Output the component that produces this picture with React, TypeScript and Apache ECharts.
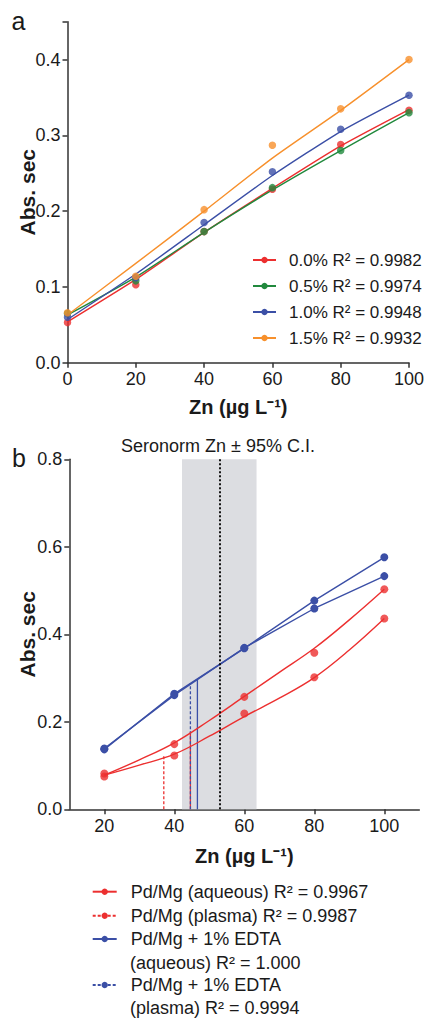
import React, { useEffect, useRef } from 'react';
import * as echarts from 'echarts';

const FONT = '"Liberation Sans", Arial, Helvetica, sans-serif';
const AXIS_COLOR = '#333333';
const TEXT_COLOR = '#1a1a1a';

// ---------- Panel a ----------
const concA = [0, 20, 40, 60, 80, 100];
const xTicksA = [0, 20, 40, 60, 80, 100];
const yTicksA = [0, 0.1, 0.2, 0.3, 0.4];
const yTickMarksA = [0, 0.1, 0.2, 0.3, 0.4, 0.45];
const namesA = ['0.0% R² = 0.9982', '0.5% R² = 0.9974', '1.0% R² = 0.9948', '1.5% R² = 0.9932'];
const colorsA = ['#ec2f2f', '#21893d', '#3b4fa6', '#f7902c'];
const pointsA00 = [0.053, 0.103, 0.173, 0.229, 0.288, 0.333];
const pointsA05 = [0.065, 0.108, 0.173, 0.231, 0.28, 0.33];
const pointsA10 = [0.06, 0.112, 0.185, 0.252, 0.308, 0.353];
const pointsA15 = [0.066, 0.114, 0.202, 0.287, 0.335, 0.4];
const fitA00 = [0.054, 0.11, 0.172, 0.23, 0.286, 0.334];
const fitA05 = [0.063, 0.113, 0.172, 0.228, 0.28, 0.33];
const fitA10 = [0.057, 0.117, 0.182, 0.247, 0.305, 0.353];
const fitA15 = [0.063, 0.131, 0.2, 0.27, 0.333, 0.4];

// ---------- Panel b ----------
const concB = [20, 40, 60, 80, 100];
const fitConcB = [20, 30, 40, 50, 60, 70, 80, 90, 100];
const xTicksB = [20, 40, 60, 80, 100];
const yTicksB = [0, 0.2, 0.4, 0.6, 0.8];
const namesB = [
  'Pd/Mg (aqueous) R² = 0.9967',
  'Pd/Mg (plasma) R² = 0.9987',
  'Pd/Mg + 1% EDTA (aqueous) R² = 1.000',
  'Pd/Mg + 1% EDTA (plasma) R² = 0.9994',
];
const legendLine1B = ['Pd/Mg (aqueous) R² = 0.9967', 'Pd/Mg (plasma) R² = 0.9987', 'Pd/Mg + 1% EDTA', 'Pd/Mg + 1% EDTA'];
const legendLine2B = ['', '', '(aqueous) R² = 1.000', '(plasma) R² = 0.9994'];
const RED = '#ec2f2f';
const BLUE = '#3b4fa6';
const pointsRedAq = [0.082, 0.149, 0.257, 0.358, 0.503];
const pointsRedPl = [0.075, 0.123, 0.219, 0.302, 0.436];
const fitRedAq = [0.078, 0.113, 0.152, 0.203, 0.258, 0.313, 0.368, 0.433, 0.503];
const fitRedPl = [0.078, 0.101, 0.126, 0.167, 0.212, 0.254, 0.301, 0.364, 0.436];
const pointsBlueAq = [0.137, 0.264, 0.368, 0.477, 0.576];
const pointsBluePl = [0.139, 0.261, 0.369, 0.459, 0.533];
const dropX = [44.6, 37.0, 46.6, 44.6];
const dropY = [0.177, 0.121, 0.297, 0.288];
const seronormZn = 53.0;
const seronormCI = [42.2, 63.5];

const pairs = (xs: number[], ys: number[]) => xs.map((x, i) => [x, ys[i]]);

export default function App() {
  const ref = useRef<HTMLDivElement>(null);

  useEffect(() => {
    if (!ref.current) return;
    const chart = echarts.init(ref.current, undefined, { renderer: 'svg' });

    const axisLine = { show: true, onZero: false, lineStyle: { color: AXIS_COLOR, width: 1.5 } };
    const axisTick = (vals: number[]) => ({
      show: true,
      length: 5,
      inside: false,
      customValues: vals,
      lineStyle: { color: AXIS_COLOR, width: 1.5 },
    });
    const label = (vals: number[], margin: number, fmt?: (v: number) => string) => ({
      show: true,
      customValues: vals,
      fontSize: 18,
      fontFamily: FONT,
      color: TEXT_COLOR,
      margin,
      formatter: fmt,
    });
    const nameStyleX = { fontSize: 20, fontWeight: 'bold', fontFamily: FONT, color: TEXT_COLOR };
    const nameStyleY = { fontSize: 21, fontWeight: 'bold', fontFamily: FONT, color: TEXT_COLOR };
    const fmt1 = (v: number) => v.toFixed(1);

    const seriesA: any[] = [];
    const fitsA = [fitA00, fitA05, fitA10, fitA15];
    const ptsA = [pointsA00, pointsA05, pointsA10, pointsA15];
    namesA.forEach((n, i) => {
      seriesA.push({
        type: 'line',
        name: n,
        xAxisIndex: 0,
        yAxisIndex: 0,
        data: pairs(concA, fitsA[i]),
        smooth: 0.2,
        symbol: 'circle',
        showSymbol: false,
        lineStyle: { color: colorsA[i], width: 1.4 },
        itemStyle: { color: colorsA[i] },
        z: 3,
      });
    });
    namesA.forEach((n, i) => {
      seriesA.push({
        type: 'scatter',
        name: n + ' points',
        xAxisIndex: 0,
        yAxisIndex: 0,
        data: pairs(concA, ptsA[i]),
        symbol: 'circle',
        symbolSize: 7.5,
        itemStyle: { color: colorsA[i] },
        z: 4,
      });
    });

    const seriesB: any[] = [
      {
        type: 'line',
        name: 'seronorm band',
        xAxisIndex: 1,
        yAxisIndex: 1,
        data: [],
        z: 0,
        silent: true,
        markArea: {
          silent: true,
          itemStyle: { color: '#dcdde1' },
          data: [[{ xAxis: seronormCI[0], yAxis: 0 }, { xAxis: seronormCI[1], yAxis: 0.8 }]],
        },
        markLine: {
          silent: true,
          symbol: 'none',
          label: { show: false },
          lineStyle: { color: '#000', width: 1.8, type: [2, 2] },
          data: [[{ coord: [seronormZn, 0] }, { coord: [seronormZn, 0.8] }]],
        },
      },
      {
        type: 'line',
        name: namesB[0],
        xAxisIndex: 1,
        yAxisIndex: 1,
        data: pairs(fitConcB, fitRedAq),
        smooth: 0.4,
        symbol: 'circle',
        showSymbol: false,
        lineStyle: { color: RED, width: 1.4 },
        itemStyle: { color: RED },
        z: 3,
      },
      {
        type: 'line',
        name: namesB[1],
        xAxisIndex: 1,
        yAxisIndex: 1,
        data: pairs(fitConcB, fitRedPl),
        smooth: 0.4,
        symbol: 'circle',
        showSymbol: false,
        lineStyle: { color: RED, width: 1.4 },
        itemStyle: { color: RED },
        z: 3,
      },
      {
        type: 'line',
        name: namesB[2],
        xAxisIndex: 1,
        yAxisIndex: 1,
        data: pairs(concB, pointsBlueAq),
        symbol: 'circle',
        symbolSize: 8,
        showSymbol: true,
        lineStyle: { color: BLUE, width: 1.4 },
        itemStyle: { color: BLUE },
        z: 4,
      },
      {
        type: 'line',
        name: namesB[3],
        xAxisIndex: 1,
        yAxisIndex: 1,
        data: pairs(concB, pointsBluePl),
        symbol: 'circle',
        symbolSize: 8,
        showSymbol: true,
        lineStyle: { color: BLUE, width: 1.4 },
        itemStyle: { color: BLUE },
        z: 4,
      },
      {
        type: 'scatter',
        name: 'red aqueous points',
        xAxisIndex: 1,
        yAxisIndex: 1,
        data: pairs(concB, pointsRedAq),
        symbolSize: 8,
        itemStyle: { color: RED },
        z: 4,
      },
      {
        type: 'scatter',
        name: 'red plasma points',
        xAxisIndex: 1,
        yAxisIndex: 1,
        data: pairs(concB, pointsRedPl),
        symbolSize: 8,
        itemStyle: { color: RED },
        z: 4,
      },
    ];
    const dropColors = [RED, RED, BLUE, BLUE];
    const dropDash: any[] = ['solid', [3, 2], 'solid', [3, 2]];
    dropX.forEach((dx, i) => {
      seriesB.push({
        type: 'line',
        name: 'drop ' + i,
        xAxisIndex: 1,
        yAxisIndex: 1,
        data: [[dx, 0], [dx, dropY[i]]],
        symbol: 'none',
        silent: true,
        lineStyle: { color: dropColors[i], width: 1.3, type: dropDash[i] },
        z: i === 0 ? 2 : 2.5,
      });
    });

    const legendTopsB = [891.7, 915.7, 939, 985];
    const legendB = namesB.map((n, i) => ({
      show: true,
      orient: 'vertical',
      left: 91.7,
      top: legendTopsB[i] - 9,
      padding: 0,
      itemWidth: 24,
      itemHeight: 8,
      selectedMode: false,
      formatter: () => legendLine1B[i],
      data: [i % 2 === 1 ? { name: n, lineStyle: { type: [3, 2] } } : { name: n }],
      textStyle: {
        fontSize: 18,
        lineHeight: 18,
        fontFamily: FONT,
        color: TEXT_COLOR,
        padding: [0, 0, 0, 9],
      },
    }));

    const graphicTexts: any[] = [
      { t: 'a', x: 18.5, y: 20.5, size: 25 },
      { t: 'b', x: 19, y: 458, size: 25 },
      { t: 'Seronorm Zn ± 95% C.I.', x: 218, y: 446, size: 18 },
      { t: legendLine2B[2], x: 130, y: 962.7, size: 18, left: true },
      { t: legendLine2B[3], x: 130, y: 1008.3, size: 18, left: true },
    ].map((g) => ({
      type: 'text',
      x: g.x,
      y: g.y,
      silent: true,
      style: {
        text: g.t,
        fontSize: g.size,
        fontFamily: FONT,
        fill: TEXT_COLOR,
        align: g.left ? 'left' : 'center',
        verticalAlign: 'middle',
      },
    }));

    chart.setOption({
      animation: false,
      backgroundColor: '#ffffff',
      textStyle: { fontFamily: FONT },
      grid: [
        { left: 67.5, top: 21.7, width: 341.5, height: 341, outerBoundsMode: 'none', containLabel: false },
        { left: 69.3, top: 459.3, width: 350, height: 350, outerBoundsMode: 'none', containLabel: false },
      ],
      xAxis: [
        {
          type: 'value',
          gridIndex: 0,
          min: 0,
          max: 100,
          interval: 20,
          axisLine,
          axisTick: axisTick(xTicksA),
          axisLabel: label(xTicksA, 7),
          splitLine: { show: false },
          name: 'Zn (µg L⁻¹)',
          nameLocation: 'middle',
          nameGap: 34,
          nameMoveOverlap: false,
          nameTextStyle: nameStyleX,
        },
        {
          type: 'value',
          gridIndex: 1,
          min: 10,
          max: 110,
          interval: 10,
          axisLine,
          axisTick: axisTick(xTicksB),
          axisLabel: label(xTicksB, 8),
          splitLine: { show: false },
          name: 'Zn (µg L⁻¹)',
          nameLocation: 'middle',
          nameGap: 37,
          nameMoveOverlap: false,
          nameTextStyle: nameStyleX,
        },
      ],
      yAxis: [
        {
          type: 'value',
          gridIndex: 0,
          min: 0,
          max: 0.45,
          axisLine,
          axisTick: axisTick(yTickMarksA),
          axisLabel: label(yTicksA, 7, fmt1),
          splitLine: { show: false },
          name: 'Abs. sec',
          nameLocation: 'middle',
          nameRotate: 90,
          nameGap: 30,
          nameMoveOverlap: false,
          nameTextStyle: nameStyleY,
        },
        {
          type: 'value',
          gridIndex: 1,
          min: 0,
          max: 0.8,
          interval: 0.2,
          axisLine,
          axisTick: axisTick(yTicksB),
          axisLabel: label(yTicksB, 7, fmt1),
          splitLine: { show: false },
          name: 'Abs. sec',
          nameLocation: 'middle',
          nameRotate: 90,
          nameGap: 31,
          nameMoveOverlap: false,
          nameTextStyle: nameStyleY,
        },
      ],
      legend: [
        {
          show: true,
          orient: 'vertical',
          left: 252,
          top: 251,
          padding: 0,
          itemGap: 8,
          itemWidth: 23,
          itemHeight: 8,
          selectedMode: false,
          data: namesA,
          textStyle: {
            fontSize: 17,
            lineHeight: 18,
            fontFamily: FONT,
            color: TEXT_COLOR,
            padding: [0, 0, 0, 8],
          },
        },
        ...legendB,
      ],
      graphic: graphicTexts,
      series: [...seriesA, ...seriesB],
    });

    return () => chart.dispose();
  }, []);

  return (
    <div
      ref={ref}
      style={{ position: 'absolute', left: 0, top: 0, width: 428, height: 1018, background: '#fff' }}
    />
  );
}
